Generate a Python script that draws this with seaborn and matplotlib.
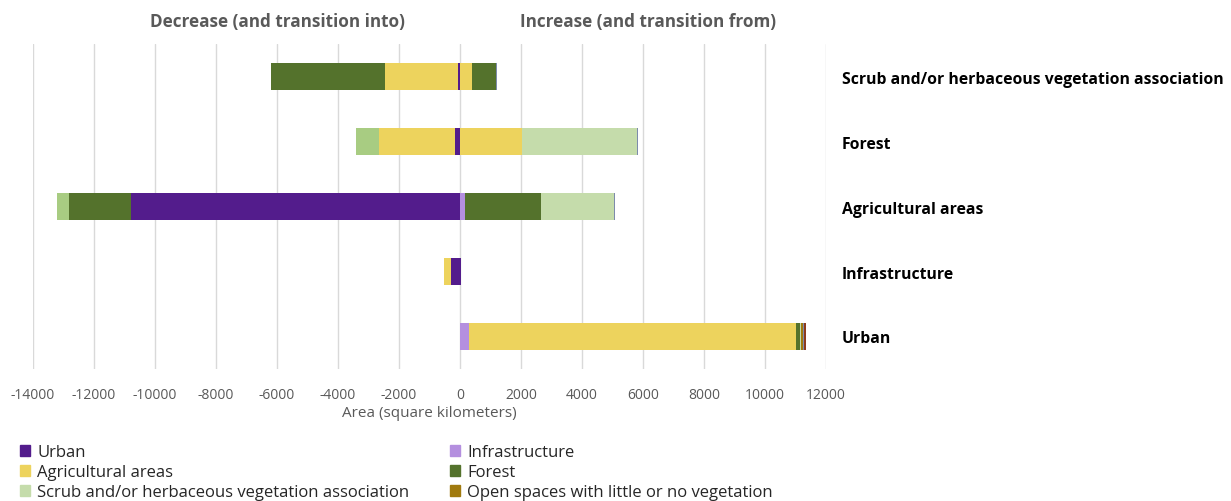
import matplotlib.pyplot as plt
import matplotlib.transforms as mtransforms
from matplotlib.patches import Patch
import seaborn as sns
import pandas as pd
import numpy as np

# rows, top to bottom
categories = ["Scrub and/or herbaceous vegetation association", "Forest",
              "Agricultural areas", "Infrastructure", "Urban"]

# stacking order, from 0 outwards
series = ["Urban", "Infrastructure", "Agricultural areas", "Forest",
          "Scrub and/or herbaceous vegetation association",
          "Open spaces with little or no vegetation", "Wetlands", "Water bodies"]

# decrease (and transition into), square km, one value per row
dec_urban = [-60, -160, -10780, -300, 0]
dec_infra = [0, 0, 0, 0, 0]
dec_agri = [-2390, -2500, 0, -240, 0]
dec_forest = [-3750, 0, -2030, 0, 0]
dec_scrub = [0, -750, -390, 0, 0]
dec_open = [0, 0, 0, 0, 0]
dec_wet = [0, 0, 0, 0, 0]
dec_water = [0, 0, 0, 0, 0]

# increase (and transition from)
inc_urban = [0, 0, 0, 40, 0]
inc_infra = [0, 0, 160, 0, 300]
inc_agri = [390, 2030, 0, 0, 10730]
inc_forest = [790, 0, 2510, 0, 110]
inc_scrub = [0, 3780, 2370, 0, 45]
inc_open = [0, 0, 0, 0, 45]
inc_wet = [25, 25, 30, 0, 65]
inc_water = [0, 0, 0, 0, 65]

colors = ["#531c8c", "#b48fdf", "#edd35d", "#54722c", "#c5dcab",
          "#a07a0e", "#7d8bab", "#8c3b1e"]
dec_colors = ["#531c8c", "#b48fdf", "#edd35d", "#54722c", "#a8cc82",
              "#a07a0e", "#7d8bab", "#8c3b1e"]

dec = pd.DataFrame(np.array([dec_urban, dec_infra, dec_agri, dec_forest,
                             dec_scrub, dec_open, dec_wet, dec_water]).T,
                   index=categories, columns=series)
inc = pd.DataFrame(np.array([inc_urban, inc_infra, inc_agri, inc_forest,
                             inc_scrub, inc_open, inc_wet, inc_water]).T,
                   index=categories, columns=series)

sns.set_theme(style="white")
plt.rcParams['font.family'] = ['Open Sans', 'DejaVu Sans']
plt.rcParams['axes.unicode_minus'] = False

grey = "#595959"
fig = plt.figure(figsize=(12.31, 5.02), dpi=100)
ax = fig.add_axes([0.0268, 0.263, 0.6442, 0.647])

# stacked bars: draw cumulative totals from the outermost segment inwards
for df, cols in [(dec, dec_colors), (inc, colors)]:
    cum = df.cumsum(axis=1)
    for i in range(len(series) - 1, -1, -1):
        sns.barplot(x=cum.iloc[:, i].values, y=categories, order=categories,
                    color=cols[i], saturation=1, width=0.42, linewidth=0,
                    errorbar=None, orient="h", ax=ax)

ax.set_xlim(-14000, 12000)
ax.set_ylim(4.5, -0.5)
ax.set_xticks(range(-14000, 12001, 2000))
ax.grid(axis="x", color="#d9d9d9", linewidth=1)
ax.set_axisbelow(True)
for s in ax.spines.values():
    s.set_visible(False)
ax.tick_params(axis="x", length=0, labelsize=10, labelcolor=grey, pad=13)
ax.set_xlabel("Area (square kilometers)", fontsize=11, color=grey, labelpad=2)
ax.set_ylabel("")

ax.yaxis.tick_right()
ax.tick_params(axis="y", length=0, pad=11.5, labelsize=11.3, labelcolor="black")
for lbl in ax.get_yticklabels():
    lbl.set_fontweight("bold")

trans = mtransforms.blended_transform_factory(ax.transData, ax.transAxes)
ax.text(-6000, 1.072, "Decrease (and transition into)", transform=trans,
        ha="center", va="center", fontsize=12.3, fontweight="bold", color=grey)
ax.text(6150, 1.072, "Increase (and transition from)", transform=trans,
        ha="center", va="center", fontsize=12.3, fontweight="bold", color=grey)

legend_names = series[:6]
handles = [Patch(color=colors[i], label=legend_names[i]) for i in range(6)]
order = [0, 2, 4, 1, 3, 5]
fig.legend([handles[i] for i in order], [legend_names[i] for i in order],
           ncol=2, loc="upper left", bbox_to_anchor=(0.0162, 0.113),
           frameon=False, fontsize=12, handlelength=0.6, handleheight=0.6,
           handletextpad=0.45, columnspacing=2.4, labelspacing=0.24,
           borderaxespad=0, borderpad=0)

fig.savefig("out.png", dpi=100)
